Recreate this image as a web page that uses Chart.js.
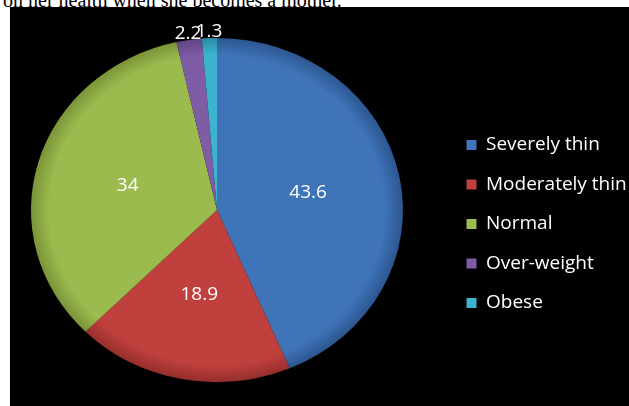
<!DOCTYPE html>
<html><head><meta charset="utf-8">
<script src="https://cdn.jsdelivr.net/npm/chart.js@4.4.1/dist/chart.umd.min.js"></script>
<style>
html,body{margin:0;padding:0;background:#fff;width:629px;height:406px;overflow:hidden;}
#wrap{position:relative;width:629px;height:406px;overflow:hidden;}
#cap{position:absolute;left:3px;top:-10px;font-family:"Liberation Serif","Times New Roman",serif;font-size:20px;line-height:20px;color:#000;white-space:nowrap;}
#bg{position:absolute;left:10px;top:7px;width:619px;height:399px;background:#000;}
#box{position:absolute;left:-12px;top:0px;width:642px;height:414px;}
</style></head><body>
<div id="wrap">
<div id="cap">on her health when she becomes a mother.</div>
<div id="bg"></div>
<div id="box"><canvas id="c"></canvas></div>
</div>
<script>
const categories = ['Severely thin', 'Moderately thin', 'Normal', 'Over-weight', 'Obese'];
const values = [43.6, 18.9, 34, 2.2, 1.3];
const valueLabels = ['43.6', '18.9', '34', '2.2', '1.3'];
const colors = ['#3F74B9', '#C0403E', '#9CBB4E', '#7F5DA6', '#3DB3D0'];
const edgeColors = ['#2C5690', '#962E2C', '#7A9438', '#5F4482', '#2A8CA6'];

const SQUASH = 0.925;
const SHIFT = -14;
const FONT = '"Open Sans", "DejaVu Sans", sans-serif';

function center(chart){
  const a = chart.chartArea;
  return {cx:(a.left+a.right)/2, cy:(a.top+a.bottom)/2};
}

const ellipsePlugin = {
  id: 'ellipse',
  beforeDatasetsDraw(chart){
    const ctx = chart.ctx; const {cx, cy} = center(chart);
    ctx.save();
    ctx.translate(cx, cy + SHIFT);
    ctx.scale(1, SQUASH);
    ctx.translate(-cx, -cy);
  },
  afterDatasetsDraw(chart){
    const ctx = chart.ctx;
    ctx.restore();
    const {cx, cy} = center(chart);
    const meta = chart.getDatasetMeta(0);
    ctx.save();
    ctx.fillStyle = '#ffffff';
    ctx.font = '19px ' + FONT;
    ctx.textAlign = 'center';
    ctx.textBaseline = 'middle';
    meta.data.forEach((arc, i) => {
      const p = arc.getProps(['x','y','startAngle','endAngle','outerRadius'], true);
      const mid = (p.startAngle + p.endAngle) / 2;
      const d = values[i] >= 5 ? p.outerRadius * 0.5 : p.outerRadius + 7;
      const x = p.x + Math.cos(mid) * d;
      const y = cy + SHIFT + Math.sin(mid) * d * SQUASH;
      ctx.fillText(valueLabels[i], x, y);
    });
    ctx.restore();
  }
};

new Chart(document.getElementById('c'), {
  type: 'pie',
  data: {
    labels: categories,
    datasets: [{
      data: values,
      radius: 186,
      borderWidth: 0,
      backgroundColor(c){
        const chart = c.chart; const a = chart.chartArea;
        const i = c.dataIndex;
        if (!a || i === undefined) return colors[i || 0];
        const {cx, cy} = center(chart);
        const g = chart.ctx.createRadialGradient(cx, cy, 0, cx, cy, 186);
        g.addColorStop(0, colors[i]);
        g.addColorStop(0.9, colors[i]);
        g.addColorStop(1, edgeColors[i]);
        return g;
      }
    }]
  },
  options: {
    responsive: true,
    maintainAspectRatio: false,
    animation: false,
    layout: { padding: { top: 34, left: 0, right: 0, bottom: 0 } },
    plugins: {
      tooltip: { enabled: false },
      legend: {
        position: 'right',
        align: 'center',
        maxWidth: 184,
        labels: {
          color: '#ffffff',
          font: { family: FONT, size: 19 },
          boxWidth: 10,
          boxHeight: 10,
          padding: 20.5,
          generateLabels(chart){
            return categories.map((t, i) => ({
              text: t, fillStyle: colors[i], strokeStyle: colors[i], lineWidth: 0,
              fontColor: '#ffffff', hidden: false, index: i
            }));
          }
        }
      }
    }
  },
  plugins: [ellipsePlugin]
});
</script>
</body></html>
